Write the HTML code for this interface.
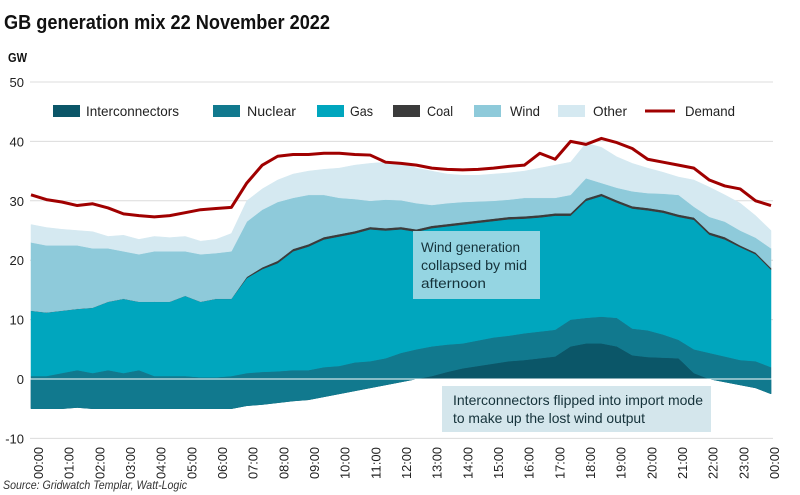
<!DOCTYPE html>
<html><head><meta charset="utf-8">
<style>
body{margin:0;background:#fff;}
svg{display:block;font-family:"Liberation Sans",sans-serif;}
</style></head>
<body>
<svg id="chart" width="800" height="495" viewBox="0 0 800 495">
<text x="4" y="29" font-size="20" font-weight="bold" fill="#111" textLength="326" lengthAdjust="spacingAndGlyphs">GB generation mix 22 November 2022</text>
<text x="8" y="62" font-size="13" font-weight="bold" fill="#111" textLength="19" lengthAdjust="spacingAndGlyphs">GW</text>
<g id="grid"></g>
<g id="areas"></g>
<g id="lines"></g>
<g id="legend"></g>
<g id="xlabels"></g>
<rect x="413" y="231" width="127" height="68" fill="#95d5e2"/>
<text font-size="14" fill="#15323a"><tspan x="421" y="252" textLength="99" lengthAdjust="spacingAndGlyphs">Wind generation</tspan><tspan x="421" y="270" textLength="106" lengthAdjust="spacingAndGlyphs">collapsed by mid</tspan><tspan x="421" y="288" textLength="65" lengthAdjust="spacingAndGlyphs">afternoon</tspan></text>
<rect x="442" y="386" width="269" height="46" fill="#d4e6ec"/>
<text font-size="14" fill="#15323a"><tspan x="453" y="405" textLength="250" lengthAdjust="spacingAndGlyphs">Interconnectors flipped into import mode</tspan><tspan x="453" y="423" textLength="192" lengthAdjust="spacingAndGlyphs">to make up the lost wind output</tspan></text>
<text x="3" y="489" font-size="12" font-style="italic" fill="#333" textLength="184" lengthAdjust="spacingAndGlyphs">Source: Gridwatch Templar, Watt-Logic</text>
</svg>
<script>
// half-hourly points 00:00..24:00 ; stacked tops (GW)
const times = Array.from({length:49},(_,i)=>i/2);
const interconnectors = [-5,-5,-5,-4.8,-5,-5,-5,-5,-5,-5,-5,-5,-5,-5,-4.5,-4.3,-4,-3.7,-3.5,-3,-2.5,-2,-1.5,-1,-0.5,0,0.5,1.2,1.8,2.2,2.6,3,3.2,3.5,3.8,5.5,6,6,5.5,4,3.7,3.6,3.5,1,0,-0.5,-1,-1.5,-2.5];
const nuclearTop = [0.5,0.5,1,1.5,1,1.5,1,1.5,0.5,0.5,0.5,0.3,0.3,0.5,1,1.2,1.3,1.5,1.5,2,2.2,2.8,3,3.5,4.4,5,5.5,5.8,6,6.5,7,7.3,7.7,8,8.3,10,10.3,10.5,10.3,8.5,8.2,7.5,6.6,5,4.4,3.8,3.2,3,2];
const gasTop = [11.5,11.2,11.5,11.8,12,13,13.5,13,13,13,14,13,13.5,13.5,17,18.5,19.5,21.5,22.3,23.5,24,24.5,25.2,25,25.2,24.8,25.4,25.7,26,26.3,26.6,26.9,27,27.2,27.5,27.5,30,30.8,29.7,28.7,28.4,28,27.3,26.8,24.3,23.5,22.2,21,18.4];
const coal = [0,0,0,0,0,0,0,0,0,0,0,0,0,0,0.2,0.3,0.4,0.4,0.4,0.4,0.4,0.4,0.4,0.4,0.4,0.4,0.4,0.4,0.4,0.4,0.4,0.4,0.4,0.4,0.4,0.4,0.4,0.4,0.4,0.4,0.4,0.4,0.4,0.4,0.4,0.4,0.3,0.3,0.3];
const windTop = [23,22.5,22.5,22.5,22,22,21.5,21,21.5,21.5,21.5,21,21.2,21.5,26.5,28.5,29.8,30.5,31,31,30.5,30.3,30,30.2,30.1,29.6,29.3,29.6,29.8,29.9,30,30.2,30.5,30.5,30.5,31,33.8,33,32.2,31.6,31.3,31.2,31,29,27.3,26.5,25,23.8,22];
const otherTop = [26,25.5,25.2,25,24.8,24,24.2,23.5,24,23.8,24,23.2,23.5,24.5,30,32,33.5,34.5,35,35.3,35.5,36,36.3,36.5,36.5,35.5,35,34.5,34.3,34.3,34.5,34.7,35,35.5,36,36.5,39.7,39,37.4,36.3,35.5,34.8,34,33.5,32.3,31,29.6,27.5,25];
const demand = [31,30.2,29.8,29.2,29.5,28.8,27.8,27.5,27.3,27.5,28,28.5,28.7,28.9,33,36,37.5,37.8,37.8,38,38,37.8,37.7,36.5,36.3,36,35.5,35.3,35.2,35.3,35.5,35.8,36,38,37,40,39.5,40.5,39.8,38.8,37,36.5,36,35.5,33.5,32.5,32,30,29.2];
const yTicks = [50,40,30,20,10,0,-10];
const xTickLabels = ["00:00","01:00","02:00","03:00","04:00","05:00","06:00","07:00","08:00","09:00","10:00","11:00","12:00","13:00","14:00","15:00","16:00","17:00","18:00","19:00","20:00","21:00","22:00","23:00","00:00"];

const NS="http://www.w3.org/2000/svg";
const X = h => 31 + h*(740/24);
const Y = v => 379 - v*5.94;
function mk(tag, parent, attrs){const e=document.createElementNS(NS,tag);for(const k in attrs)e.setAttribute(k,attrs[k]);document.getElementById(parent).appendChild(e);return e;}

yTicks.forEach(v=>{
  const g=mk('line','grid',{x1:30,x2:773,y1:Y(v),y2:Y(v),stroke:'#dcdcdc','stroke-width':1});
  
  
  const t=mk('text','grid',{x:24,y:Y(v)+5,'font-size':13,'text-anchor':'end',fill:'#222'});
  t.textContent=v;
  
  
});

const coalTop = gasTop.map((g,i)=>g+coal[i]);
const zero = times.map(()=>0);
const layers = [
  ['interconnectors-area', zero, interconnectors, '#0b5668'],
  ['nuclear-area', interconnectors, nuclearTop, '#11798e'],
  ['gas-area', nuclearTop, gasTop, '#00a6be'],
  ['coal-area', gasTop, coalTop, '#3b3b3b'],
  ['wind-area', coalTop, windTop, '#8ecada'],
  ['other-area', windTop, otherTop, '#d5e9f1']
];
layers.forEach(([name,lo,hi,col])=>{
  let d='M'+times.map((t,i)=>X(t)+','+Y(hi[i])).join('L');
  for(let i=times.length-1;i>=0;i--) d+='L'+X(times[i])+','+Y(lo[i]);
  const p=mk('path','areas',{d:d+'Z',fill:col,stroke:col,'stroke-width':0.5});
  
  
});
const zl=mk('line','areas',{x1:30,x2:773,y1:Y(0),y2:Y(0),stroke:'#ffffff','stroke-width':1});



const dl=mk('path','lines',{d:'M'+times.map((t,i)=>X(t)+','+Y(demand[i])).join('L'),fill:'none',stroke:'#a00000','stroke-width':3,'stroke-linejoin':'round'});



xTickLabels.forEach((l,i)=>{
  const x=38+i*(736/24);
  const t=mk('text','xlabels',{transform:`translate(${x+5},447) rotate(-90)`,'font-size':13,'text-anchor':'end',fill:'#222',textLength:32,lengthAdjust:'spacingAndGlyphs'});
  t.textContent=l;
  
  
});

const legendItems=[['Interconnectors','#0b5668',53,86,93],['Nuclear','#11798e',213,247,49],['Gas','#00a6be',317,350,23],['Coal','#3b3b3b',393,427,26],['Wind','#8ecada',474,510,30],['Other','#d5e9f1',558,593,34]];
legendItems.forEach(([n,c,sx,tx,w])=>{
  const r=mk('rect','legend',{x:sx,y:105,width:27,height:12,fill:c});
  
  
  const t=mk('text','legend',{x:tx,y:116,'font-size':14,fill:'#222',textLength:w,lengthAdjust:'spacingAndGlyphs'});
  t.textContent=n;
  
  
});
const ll=mk('line','legend',{x1:645,x2:675,y1:111,y2:111,stroke:'#a00000','stroke-width':3});


const lt=mk('text','legend',{x:685,y:116,'font-size':14,fill:'#222',textLength:50,lengthAdjust:'spacingAndGlyphs'});
lt.textContent='Demand';


</script>
</body></html>
